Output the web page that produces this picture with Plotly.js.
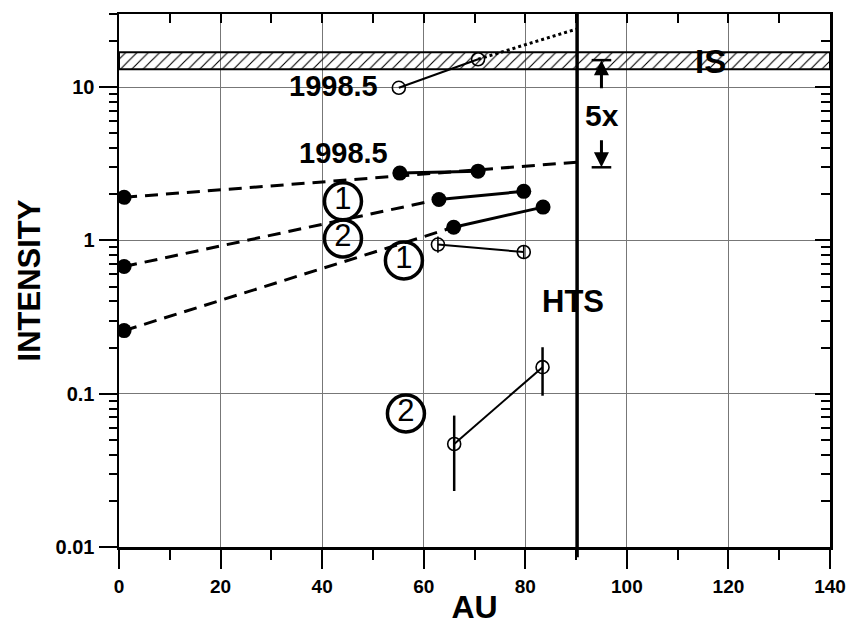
<!DOCTYPE html>
<html><head><meta charset="utf-8">
<script src="https://cdn.plot.ly/plotly-3.0.1.min.js"></script>
<style>html,body{margin:0;padding:0;background:#fff}#chart{width:849px;height:625px}</style>
</head><body><div id="chart"></div>
<script>
// ---- data (AU, intensity) ----
const htsAU = 90.2;
const bandAU = [0, 140, 140, 0, 0];
const bandI  = [13.1, 13.1, 16.9, 16.9, 13.1];

const dash1AU = [1, 90.2];  const dash1I = [1.91, 3.24];
const dash2AU = [1, 63.0];  const dash2I = [0.676, 1.85];
const dash3AU = [1, 65.9];  const dash3I = [0.258, 1.22];

const fill98AU = [55.3, 70.7]; const fill98I = [2.75, 2.83];
const fill1AU  = [63.0, 79.7]; const fill1I  = [1.85, 2.09];
const fill2AU  = [65.9, 83.5]; const fill2I  = [1.22, 1.65];

const open98AU = [55.1, 70.7]; const open98I = [9.9, 15.2];
const dotAU = [70.7, 90.2];    const dotI = [15.2, 24];
const open1AU = [62.8, 79.7];  const open1I = [0.94, 0.84];
const open1ErrUp = [0.12, 0.09]; const open1ErrDn = [0.11, 0.08];
const open2AU = [66.0, 83.4];  const open2I = [0.047, 0.149];
const open2ErrUp = [0.025, 0.052]; const open2ErrDn = [0.0238, 0.052];

const fiveXAU = 95;
const fiveXHi = 15.0, fiveXLo = 3.0;

const xTicks = [0, 20, 40, 60, 80, 100, 120, 140];
const yTicks = [0.01, 0.1, 1, 10];
const yTickText = ['0.01', '0.1', '1', '10'];

// label positions
const circAU = [44.1, 44.1, 56.1, 56.5];
const circI  = [1.8, 1.03, 0.74, 0.0743];
const circTxt = ['1', '2', '1', '2'];

const F = 'Liberation Sans, Arial, sans-serif';
const L = Math.log10;

const traces = [];
traces.push({x: bandAU, y: bandI, mode: 'lines', fill: 'toself', fillcolor: 'rgba(0,0,0,0)',
  fillpattern: {shape: '/', fgcolor: 'black', bgcolor: 'rgba(0,0,0,0)', size: 8, solidity: 0.14},
  line: {color: 'black', width: 2}});
const dashLine = {color: 'black', width: 3, dash: '13px,8px'};
traces.push({x: dash1AU, y: dash1I, mode: 'lines', line: dashLine});
traces.push({x: dash2AU, y: dash2I, mode: 'lines', line: dashLine});
traces.push({x: dash3AU, y: dash3I, mode: 'lines', line: dashLine});
traces.push({x: [dash1AU[0], dash2AU[0], dash3AU[0]], y: [dash1I[0], dash2I[0], dash3I[0]], mode: 'markers',
  marker: {color: 'black', size: 15}});
[[fill98AU, fill98I], [fill1AU, fill1I], [fill2AU, fill2I]].forEach(([x, y]) => {
  traces.push({x: x, y: y, mode: 'lines+markers', line: {color: 'black', width: 3}, marker: {color: 'black', size: 15}});
});
traces.push({x: dotAU, y: dotI, mode: 'lines', line: {color: 'black', width: 3, dash: 'dot'}});
const openMk = {symbol: 'circle-open', color: 'black', size: 13, line: {width: 1.6, color: 'black'}};
traces.push({x: open98AU, y: open98I, mode: 'lines+markers', line: {color: 'black', width: 2}, marker: openMk});
traces.push({x: open1AU, y: open1I, mode: 'lines+markers', line: {color: 'black', width: 2}, marker: openMk,
  error_y: {type: 'data', symmetric: false, array: open1ErrUp, arrayminus: open1ErrDn, width: 0, thickness: 1.6, color: 'black'}});
traces.push({x: open2AU, y: open2I, mode: 'lines+markers', line: {color: 'black', width: 2}, marker: openMk,
  error_y: {type: 'data', symmetric: false, array: open2ErrUp, arrayminus: open2ErrDn, width: 0, thickness: 2.5, color: 'black'}});
// 5x level bars
traces.push({x: [fiveXAU, fiveXAU], y: [fiveXHi, fiveXLo], mode: 'markers',
  marker: {symbol: 'line-ew', size: 14, line: {width: 2.5, color: 'black'}}});
// circled labels
traces.push({x: circAU, y: circI, mode: 'markers+text', text: circTxt, textposition: 'middle center',
  textfont: {family: F, size: 31, color: 'black'},
  marker: {symbol: 'circle-open', size: 37, color: 'black', line: {width: 3.5, color: 'black'}}});
// anchor trace for the labelled (bottom/left) axes
traces.push({x: [70], y: [1], xaxis: 'x2', yaxis: 'y2', mode: 'markers', marker: {opacity: 0}});

traces.forEach(t => { t.hoverinfo = 'skip'; t.showlegend = false; });

const lbl = (text, x, y, size) => ({text: text, x: x, y: L(y), xref: 'x', yref: 'y', showarrow: false,
  font: {family: F, size: size, color: 'black', weight: 'bold'}, xanchor: 'center', yanchor: 'middle'});

const layout = {
  width: 849, height: 625,
  margin: {l: 119, r: 19, t: 14, b: 78},
  paper_bgcolor: 'white', plot_bgcolor: 'white',
  showlegend: false,
  // main axes: top / right frame with inward ticks
  xaxis: {side: 'top', range: [0, 140], tickmode: 'linear', tick0: 0, dtick: 10, ticks: 'inside', ticklen: 9, tickwidth: 2,
    tickcolor: 'black', showticklabels: false, showgrid: false, showline: true, linewidth: 2.5, linecolor: 'black',
    zeroline: false},
  yaxis: {side: 'right', type: 'log', range: [-2, L(30)], tickmode: 'array', tickvals: yTicks, ticks: 'inside', ticklen: 15,
    tickwidth: 2, tickcolor: 'black',
    minor: {ticks: 'inside', ticklen: 9, tickwidth: 2, dtick: 'D1', tickcolor: 'black', showgrid: false},
    showticklabels: false, showgrid: false, showline: true, linewidth: 2.5, linecolor: 'black', zeroline: false},
  // labelled bottom / left axes
  xaxis2: {overlaying: 'x', side: 'bottom', range: [0, 140], tickmode: 'array', tickvals: xTicks, ticks: 'outside',
    ticklen: 19, tickwidth: 2, tickcolor: 'black',
    minor: {ticks: 'outside', ticklen: 10, tickwidth: 2, tick0: 0, dtick: 10, tickcolor: 'black', showgrid: false},
    showgrid: true, gridcolor: '#777', gridwidth: 1, showline: true, linewidth: 2.5, linecolor: 'black', zeroline: false,
    tickfont: {family: F, size: 19, color: 'black', weight: 'bold'},
    ticklabelstandoff: 2, ticklabeloverflow: 'allow',
    title: {text: 'AU', font: {family: F, size: 32, color: 'black', weight: 'bold'}, standoff: 4}},
  yaxis2: {overlaying: 'y', side: 'left', type: 'log', range: [-2, L(30)], tickmode: 'array', tickvals: yTicks,
    ticktext: yTickText, ticks: 'outside', ticklen: 18, tickwidth: 2, tickcolor: 'black',
    minor: {ticks: 'outside', ticklen: 8, tickwidth: 2, dtick: 'D1', tickcolor: 'black', showgrid: false},
    showgrid: true, gridcolor: '#777', gridwidth: 1, showline: true, linewidth: 2.5, linecolor: 'black', zeroline: false,
    tickfont: {family: F, size: 20, color: 'black', weight: 'bold'},
    title: {text: 'INTENSITY', font: {family: F, size: 31, color: 'black', weight: 'bold'}, standoff: 6}},
  shapes: [{type: 'line', xref: 'x', yref: 'paper', x0: htsAU, x1: htsAU, y0: -0.019, y1: 1, layer: 'above',
    line: {color: 'black', width: 3.5}}],
  annotations: [
    lbl('1998.5', 42.3, 10.15, 29),
    lbl('1998.5', 44.3, 3.7, 29),
    lbl('HTS', 89.4, 0.399, 31),
    lbl('IS', 116.4, 14.6, 33),
    lbl('5x', 95.1, 6.5, 30),
    {x: fiveXAU, y: L(fiveXHi), ax: fiveXAU, ay: L(9.6), xref: 'x', yref: 'y', axref: 'x', ayref: 'y', showarrow: true,
      arrowhead: 2, arrowsize: 1, arrowwidth: 3, arrowcolor: 'black', text: ''},
    {x: fiveXAU, y: L(fiveXLo), ax: fiveXAU, ay: L(4.6), xref: 'x', yref: 'y', axref: 'x', ayref: 'y', showarrow: true,
      arrowhead: 2, arrowsize: 1, arrowwidth: 3, arrowcolor: 'black', text: ''}
  ]
};
Plotly.newPlot('chart', traces, layout, {displayModeBar: false, staticPlot: true});
</script></body></html>
